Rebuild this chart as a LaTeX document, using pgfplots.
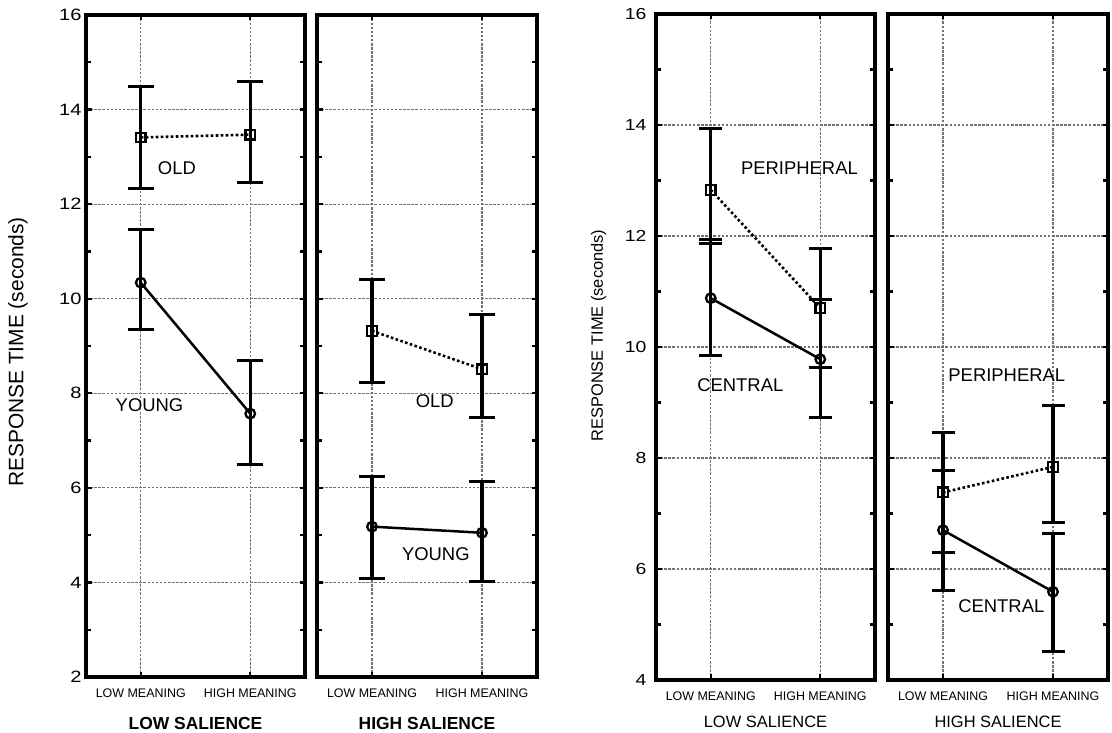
\documentclass[border=0pt]{standalone}
\usepackage{fontspec}
\setmainfont{Liberation Sans}
\newfontfamily\widesans[FakeStretch=1.22]{Liberation Sans}
\usepackage{pgfplots}
\pgfplotsset{compat=1.18}
\pgfplotsset{
  panel/.style={
    scale only axis, anchor=south west,
    xmin=-0.5, xmax=1.5, xtick={0,1},
    xticklabels={LOW MEANING,HIGH MEANING},
    minor y tick num=1,
    grid=major,
    major grid style={draw=black!55, line width=1.1bp, dash pattern=on 2.5bp off 1.6bp},
    axis line style={draw=none},
    after end axis/.code={\draw[line width=3.4bp, line join=miter] (rel axis cs:0,0) rectangle (rel axis cs:1,1);},
    tick style={line width=2.2bp, black},
    major tick length=5.5bp, minor tick length=5bp,
    tick align=inside,
    /pgf/number format/assume math mode=true,
    xticklabel style={font=\fontsize{12.5}{14}\selectfont, anchor=center, yshift=-16bp},
    every axis x label/.style={at={(rel axis cs:0.5,0)}, anchor=center},
    every axis y label/.style={at={(rel axis cs:0,0.5)}, anchor=center, rotate=90},
    clip=false,
  },
  old/.style={black, line width=2.6bp, dash pattern=on 2.6bp off 2.4bp,
    mark=square, mark size=4.8bp, mark options={solid, fill=white, line width=2.3bp},
    error bars/.cd, y dir=both, y explicit,
    error bar style={solid, line width=3.1bp},
    error mark options={rotate=90, mark size=#1, line width=3.1bp, solid}},
  young/.style={black, line width=2.5bp, solid,
    mark=o, mark size=4.8bp, mark options={solid, fill=white, line width=2.3bp},
    error bars/.cd, y dir=both, y explicit,
    error bar style={solid, line width=3.1bp},
    error mark options={rotate=90, mark size=#1, line width=3.1bp, solid}},
}
\begin{document}
\begin{tikzpicture}
\path[use as bounding box] (0,0) rectangle (1112bp,733bp);
% ---------- Left group, panel 1 ----------
\begin{axis}[panel, at={(86bp,56bp)}, width=219bp, height=662bp,
  ymin=2, ymax=16, ytick={2,4,...,16},
  yticklabel style={font=\widesans\fontsize{16.5}{18}\selectfont, xshift=-1bp},
  xlabel={\bfseries LOW SALIENCE},
  xlabel style={font=\fontsize{17.5}{20}\selectfont, yshift=-46bp},
  ylabel={RESPONSE TIME (seconds)},
  ylabel style={font=\fontsize{21}{24}\selectfont, xshift=-6bp, yshift=68bp}]
\addplot[old=13bp] coordinates {(0,13.41) += (0,1.07) -= (0,1.07) (1,13.47) += (0,1.13) -= (0,1.02)};
\addplot[young=13bp] coordinates {(0,10.34) += (0,1.12) -= (0,1.00) (1,7.57) += (0,1.13) -= (0,1.07)};
\node[font=\fontsize{18.5}{20}\selectfont] at (axis cs:0.33,12.77) {OLD};
\node[font=\fontsize{18.5}{20}\selectfont] at (axis cs:0.08,7.75) {YOUNG};
\end{axis}
% ---------- Left group, panel 2 ----------
\begin{axis}[panel, at={(317bp,56bp)}, width=220bp, height=662bp,
  ymin=2, ymax=16, ytick={2,4,...,16}, yticklabels={},
  xlabel={\bfseries HIGH SALIENCE},
  xlabel style={font=\fontsize{17.5}{20}\selectfont, yshift=-46bp}]
\addplot[old=13bp] coordinates {(0,9.32) += (0,1.09) -= (0,1.09) (1,8.51) += (0,1.15) -= (0,1.02)};
\addplot[young=13bp] coordinates {(0,5.18) += (0,1.06) -= (0,1.09) (1,5.05) += (0,1.08) -= (0,1.03)};
\node[font=\fontsize{18.5}{20}\selectfont] at (axis cs:0.57,7.83) {OLD};
\node[font=\fontsize{18.5}{20}\selectfont] at (axis cs:0.58,4.6) {YOUNG};
\end{axis}
% ---------- Right group, panel 3 ----------
\begin{axis}[panel, at={(656bp,53bp)}, width=219bp, height=666bp,
  ymin=4, ymax=16, ytick={4,6,...,16},
  yticklabel style={font=\widesans\fontsize{16}{18}\selectfont, xshift=-6bp},
  xlabel={LOW SALIENCE},
  xlabel style={font=\fontsize{16.5}{19}\selectfont, yshift=-42bp},
  ylabel={RESPONSE TIME (seconds)},
  ylabel style={font=\fontsize{16.5}{19}\selectfont, xshift=11.5bp, yshift=57.5bp}]
\addplot[old=11.5bp] coordinates {(0,12.83) += (0,1.11) -= (0,0.97) (1,10.70) += (0,1.08) -= (0,1.07)};
\addplot[young=11.5bp] coordinates {(0,10.88) += (0,1.06) -= (0,1.04) (1,9.78) += (0,1.07) -= (0,1.05)};
\node[font=\fontsize{18.5}{20}\selectfont] at (axis cs:0.81,13.22) {PERIPHERAL};
\node[font=\fontsize{18.5}{20}\selectfont] at (axis cs:0.27,9.32) {CENTRAL};
\end{axis}
% ---------- Right group, panel 4 ----------
\begin{axis}[panel, at={(888bp,53bp)}, width=220bp, height=666bp,
  ymin=4, ymax=16, ytick={4,6,...,16}, yticklabels={},
  xlabel={HIGH SALIENCE},
  xlabel style={font=\fontsize{16.5}{19}\selectfont, yshift=-42bp}]
\addplot[old=11.5bp] coordinates {(0,7.38) += (0,1.08) -= (0,1.08) (1,7.84) += (0,1.11) -= (0,1.01)};
\addplot[young=11.5bp] coordinates {(0,6.70) += (0,1.08) -= (0,1.08) (1,5.59) += (0,1.05) -= (0,1.07)};
\node[font=\fontsize{18.5}{20}\selectfont] at (axis cs:0.58,9.5) {PERIPHERAL};
\node[font=\fontsize{18.5}{20}\selectfont] at (axis cs:0.53,5.33) {CENTRAL};
\end{axis}
\end{tikzpicture}
\end{document}
